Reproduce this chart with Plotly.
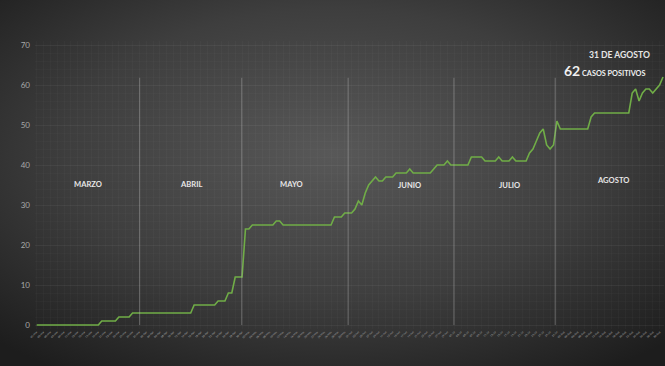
import base64
import pandas as pd
import plotly.graph_objects as go

# ---------------- data ----------------
start_date = "2020-03-01"
casos = [
    0, 0, 0, 0, 0, 0, 0, 0, 0, 0, 0, 0, 0, 0, 0, 0, 0, 0, 0,
    1, 1, 1, 1, 1,
    2, 2, 2, 2,
    3, 3, 3, 3, 3, 3, 3, 3, 3, 3, 3, 3, 3, 3, 3, 3, 3, 3,
    5, 5, 5, 5, 5, 5, 5,
    6, 6, 6,
    8, 8,
    12, 12, 12,
    24, 24,
    25, 25, 25, 25, 25, 25, 25,
    26, 26,
    25, 25, 25, 25, 25, 25, 25, 25, 25, 25, 25, 25, 25, 25, 25,
    27, 27, 27,
    28, 28, 28,
    29, 31, 30, 33, 35, 36, 37, 36, 36,
    37, 37, 37,
    38, 38, 38, 38,
    39,
    38, 38, 38, 38, 38, 38,
    39,
    40, 40, 40,
    41,
    40, 40, 40, 40, 40, 40,
    42, 42, 42, 42,
    41, 41, 41, 41,
    42,
    41, 41, 41,
    42,
    41, 41, 41, 41,
    43, 44, 46, 48, 49, 45, 44, 45, 51,
    49, 49, 49, 49, 49, 49, 49, 49, 49,
    52,
    53, 53, 53, 53, 53, 53, 53, 53, 53, 53, 53,
    58, 59, 56, 58, 59, 59, 58, 59, 60, 62,
]
fechas = pd.date_range(start_date, periods=len(casos), freq="D")

meses = ["MARZO", "ABRIL", "MAYO", "JUNIO", "JULIO", "AGOSTO"]
mes_label_fecha = ["2020-03-16", "2020-04-15", "2020-05-14 12:00", "2020-06-18", "2020-07-17", "2020-08-16 12:00"]
mes_label_y = [35.2, 35.2, 35.2, 35.0, 35.0, 36.2]
separadores_mes = ["2020-03-31 02:00", "2020-04-29 22:00", "2020-05-31 00:00", "2020-06-30 22:00", "2020-07-30 12:00"]

fecha_final_txt = "31 DE AGOSTO"
total_final = casos[-1]

# ---------------- layout geometry ----------------
W, H = 665, 366
ML, MR, MT, MB = 35, 1, 41, 37
PW, PH = W - ML - MR, H - MT - MB

svg = f"""<svg xmlns='http://www.w3.org/2000/svg' width='{W}' height='{H}' viewBox='0 0 {W} {H}' preserveAspectRatio='none'>
<defs><radialGradient id='g' cx='0.5' cy='0.42' r='0.72'>
<stop offset='0' stop-color='#585858'/>
<stop offset='0.55' stop-color='#3e3e3e'/>
<stop offset='1' stop-color='#1d1d1d'/>
</radialGradient></defs>
<rect width='{W}' height='{H}' fill='url(#g)'/></svg>"""
bg_uri = "data:image/svg+xml;base64," + base64.b64encode(svg.encode()).decode()

FONT = "Lato, Open Sans, sans-serif"

fig = go.Figure()
fig.add_trace(go.Scatter(
    x=fechas, y=casos, mode="lines",
    line=dict(color="#70AD47", width=1.6),
    hoverinfo="x+y", showlegend=False,
))

shapes = []
for f in separadores_mes:
    shapes.append(dict(type="line", xref="x", yref="y", x0=f, x1=f, y0=0, y1=61.8,
                       line=dict(color="rgba(190,190,190,0.4)", width=1), layer="above"))

annotations = []
for m, fx, fy in zip(meses, mes_label_fecha, mes_label_y):
    annotations.append(dict(x=fx, y=fy, xref="x", yref="y", text=f"<b>{m}</b>",
                            showarrow=False, font=dict(family=FONT, size=7.6, color="#e6e6e6")))

annotations.append(dict(x=(619 - ML) / PW, y=67.6, xref="paper", yref="y", xanchor="center",
                        text=f"<b>{fecha_final_txt}</b>", showarrow=False,
                        font=dict(family=FONT, size=8.6, color="#e6e6e6")))
annotations.append(dict(x=(605 - ML) / PW, y=63.7, xref="paper", yref="y", xanchor="center",
                        text=f"<b><span style='font-size:14px'>{total_final}</span> CASOS POSITIVOS</b>",
                        showarrow=False,
                        font=dict(family=FONT, size=7.3, color="#f0f0f0")))

x0 = pd.Timestamp(start_date) - pd.Timedelta(hours=12)
x1 = fechas[-1] + pd.Timedelta(hours=7)

fig.update_layout(
    width=W, height=H,
    margin=dict(l=ML, r=MR, t=MT, b=MB, pad=0),
    paper_bgcolor="#2b2b2b",
    plot_bgcolor="rgba(0,0,0,0)",
    shapes=shapes,
    annotations=annotations,
    images=[dict(source=bg_uri, xref="paper", yref="paper",
                 x=-ML / PW, y=1 + MT / PH, sizex=W / PW, sizey=H / PH,
                 xanchor="left", yanchor="top", sizing="stretch", layer="below")],
    xaxis=dict(
        type="date", range=[x0, x1],
        tick0=start_date, dtick=2 * 86400000, tickformat="%d-%b",
        tickangle=-45, tickfont=dict(size=2.6, color="#b0b0b0", family="Lato"),
        ticks="", showline=False, zeroline=False,
        showgrid=True, gridcolor="rgba(255,255,255,0.022)", gridwidth=1,
    ),
    yaxis=dict(
        range=[-1, 71], tickvals=[0, 10, 20, 30, 40, 50, 60, 70],
        tickfont=dict(size=8, color="#a8a8a8", family=FONT),
        ticks="", showline=False, zeroline=False, ticklabelstandoff=4,
        showgrid=True, gridcolor="rgba(255,255,255,0.035)", gridwidth=1,
        minor=dict(dtick=2, showgrid=True, gridcolor="rgba(255,255,255,0.018)"),
    ),
)

fig.write_html("out.html")
